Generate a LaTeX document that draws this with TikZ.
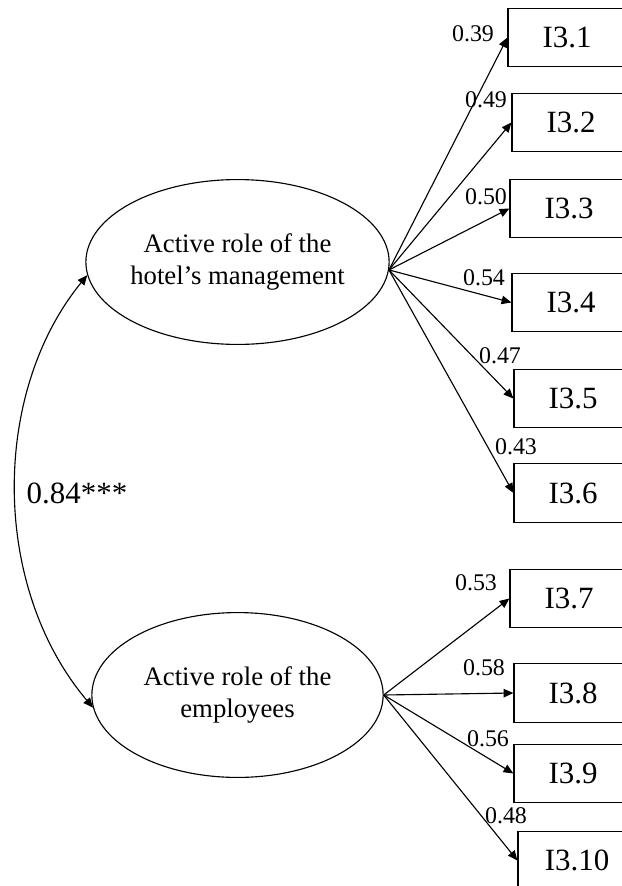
\documentclass[tikz,border=0pt]{standalone}
\usepackage{fontspec}
\setmainfont{Liberation Serif}
\usetikzlibrary{arrows.meta,shapes.geometric}

\begin{document}
\begin{tikzpicture}[x=0.025cm,y=-0.025cm,
  latent/.style={draw,ellipse,line width=0.8pt,minimum width=7.28cm,minimum height=4.12cm,
    inner sep=0pt,align=center,font=\fontsize{19}{23}\selectfont},
  item/.style={draw,rectangle,line width=0.8pt,minimum width=2.95cm,minimum height=1.47cm,
    inner sep=0pt,font=\fontsize{22}{26}\selectfont},
  loading/.style={line width=0.8pt,-{Triangle[length=7pt,width=6pt]}},
  coef/.style={inner sep=0pt,font=\fontsize{17}{20}\selectfont},
  corr/.style={line width=0.8pt,{Triangle[length=7pt,width=6pt]}-{Triangle[length=7pt,width=6pt]}}]
% page = 621 x 886 px grid, y downwards
\useasboundingbox (0,0) rectangle (621,886);
% latent factors
\node[latent] (mgmt) at (237.5,262) {Active role of the\\hotel’s management};
\node[latent] (empl) at (237.5,695) {Active role of the\\employees};
% items of the management factor
\foreach \i/\cx/\cy/\px/\py/\val in {1/567/37.5/473/34/0.39, 2/571/122.5/486/100/0.49,
                                     3/569/208.5/486/197/0.50, 4/571/302.5/484/278/0.54,
                                     5/573/398.5/500/356/0.47, 6/573/493/516/447/0.43}{
  \node[item] (i\i) at (\cx,\cy) {I3.\i};
  \draw[loading] (mgmt.-3) -- (i\i.west);
  \node[coef] (c\i) at (\px,\py) {\val};}
% items of the employees factor
\foreach \i/\cx/\cy/\px/\py/\val in {7/569/598.5/476/583/0.53, 8/573/693/484/668/0.58,
                                     9/573/773.5/488/739/0.56, 10/577/860.5/506/816/0.48}{
  \node[item] (i\i) at (\cx,\cy) {I3.\i};
  \draw[loading] (empl.east) -- (i\i.west);
  \node[coef] (c\i) at (\px,\py) {\val};}
% correlation between the factors
\draw[corr] (mgmt.185) .. controls (-9,393) and (-9,587) .. (empl.185);
\node[font=\fontsize{22}{26}\selectfont,inner sep=0pt] (r) at (77,493) {0.84***};
\end{tikzpicture}
\end{document}
